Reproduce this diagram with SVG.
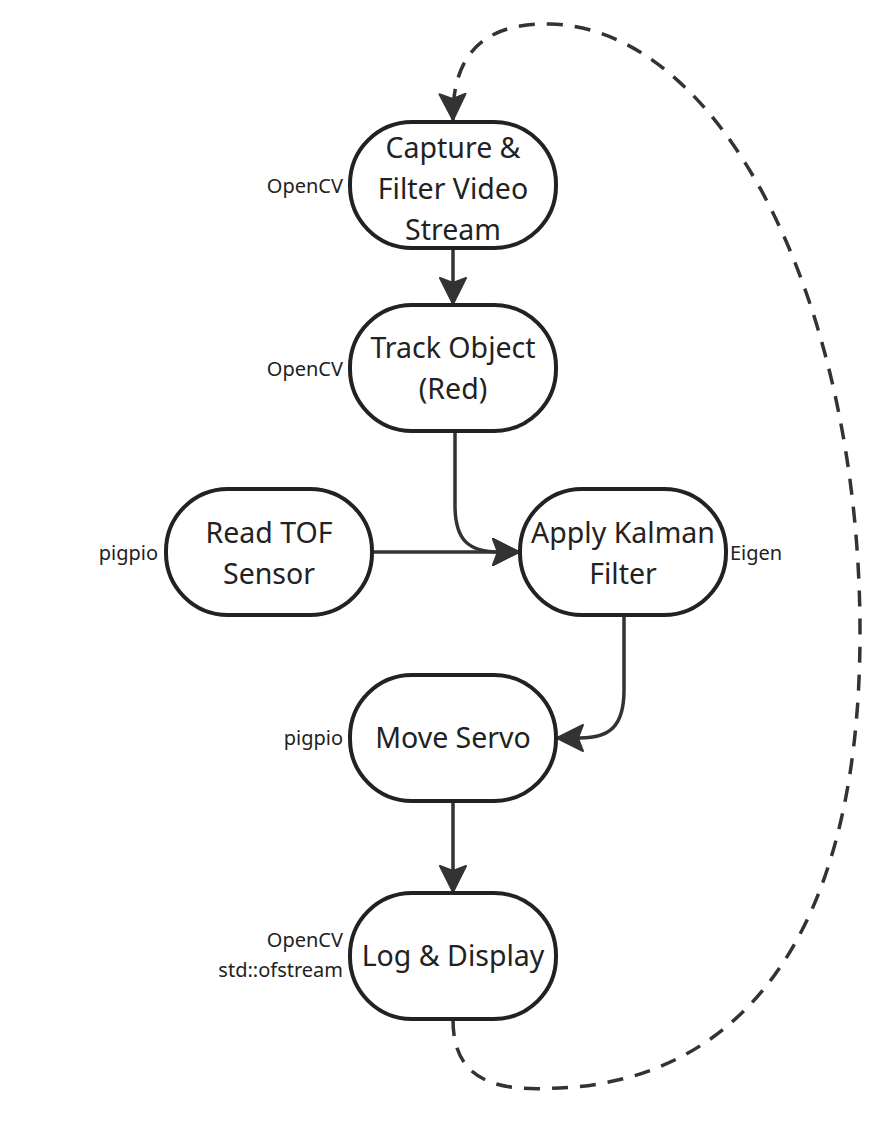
<svg xmlns="http://www.w3.org/2000/svg" width="885" height="1129" viewBox="0 0 885 1129">
<style>
.node{fill:#fff;stroke:#222;stroke-width:4}
.t{font-family:"Noto Sans","Open Sans",sans-serif;font-size:28.5px;fill:#222;text-anchor:middle}
.lbl{font-family:"Noto Sans","Open Sans",sans-serif;font-size:20px;fill:#222}
.c{fill:none;stroke:#333;stroke-width:3.5}
.d{stroke-dasharray:16 12}
</style>
<defs>
<marker id="ah" viewBox="0 0 28 30" refX="27" refY="15" markerWidth="28" markerHeight="30" markerUnits="userSpaceOnUse" orient="auto">
<path d="M1,2 L27,15 L1,28 L6,15 Z" fill="#333" stroke="#333" stroke-width="2" stroke-linejoin="round"/>
</marker>
</defs>
<rect width="885" height="1129" fill="#fff"/>
<g id="connectors">
<path class="c" d="M453 248 L453 304" marker-end="url(#ah)"/>
<path class="c" d="M455 431 L455 505 C455 540 468 552 500 552 L519 552" marker-end="url(#ah)"/>
<path class="c" d="M372 552 L519 552" marker-end="url(#ah)"/>
<path class="c" d="M624 614 L624 690 C624 726 610 738 580 738 L557 738" marker-end="url(#ah)"/>
<path class="c" d="M453 800 L453 892" marker-end="url(#ah)"/>
<path class="c d" d="M453 1020 C453 1092 515 1090 560 1088 C730 1080 858 950 860 640 C862 300 720 28 550 24 C470 22 452 70 453 120" marker-end="url(#ah)"/>
</g>
<g id="capture">
<rect class="node" x="350" y="122" width="206" height="126" rx="62"/>
<text class="t" x="453" y="158">Capture &amp;</text>
<text class="t" x="453" y="199">Filter Video</text>
<text class="t" x="453" y="240">Stream</text>
<text class="lbl" x="343" y="193" text-anchor="end">OpenCV</text>
</g>
<g id="track">
<rect class="node" x="350" y="305" width="206" height="126" rx="62"/>
<text class="t" x="453" y="358">Track Object</text>
<text class="t" x="453" y="399">(Red)</text>
<text class="lbl" x="343" y="376" text-anchor="end">OpenCV</text>
</g>
<g id="tof">
<rect class="node" x="166" y="489" width="206" height="126" rx="62"/>
<text class="t" x="269" y="543">Read TOF</text>
<text class="t" x="269" y="584">Sensor</text>
<text class="lbl" x="158" y="560" text-anchor="end">pigpio</text>
</g>
<g id="kalman">
<rect class="node" x="520" y="489" width="206" height="126" rx="62"/>
<text class="t" x="623" y="543">Apply Kalman</text>
<text class="t" x="623" y="584">Filter</text>
<text class="lbl" x="730" y="560">Eigen</text>
</g>
<g id="servo">
<rect class="node" x="350" y="675" width="206" height="126" rx="62"/>
<text class="t" x="453" y="748">Move Servo</text>
<text class="lbl" x="343" y="745" text-anchor="end">pigpio</text>
</g>
<g id="log">
<rect class="node" x="350" y="893" width="206" height="126" rx="62"/>
<text class="t" x="453" y="966">Log &amp; Display</text>
<text class="lbl" x="343" y="947" text-anchor="end">OpenCV</text>
<text class="lbl" x="343" y="977" text-anchor="end">std::ofstream</text>
</g>
</svg>
